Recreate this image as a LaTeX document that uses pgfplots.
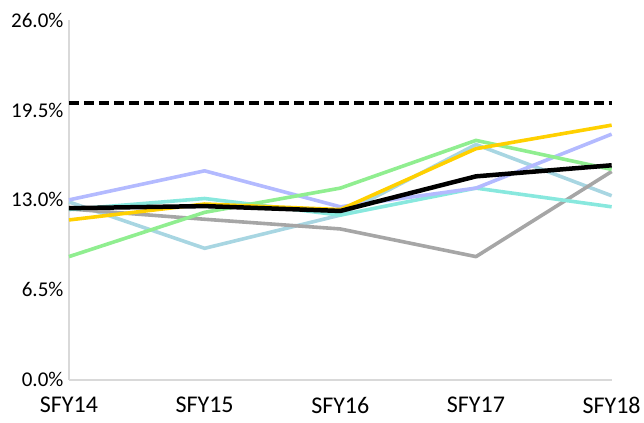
\documentclass[border=0pt]{standalone}
\usepackage{fontspec}
\setmainfont{Carlito}
\usepackage{pgfplots}
\pgfplotsset{compat=1.18}
\definecolor{lav}{RGB}{179,186,255}
\definecolor{lgreen}{RGB}{144,238,144}
\definecolor{gold}{RGB}{255,208,0}
\definecolor{lblue}{RGB}{168,214,226}
\definecolor{turq}{RGB}{136,232,222}
\definecolor{mgray}{RGB}{166,166,166}
\definecolor{axgray}{RGB}{217,217,217}
\begin{document}
\begin{tikzpicture}
\begin{axis}[
  name=ax,
  scale only axis,
  width=543pt, height=360pt,
  xmin=0, xmax=4, ymin=0, ymax=26,
  axis x line=bottom, axis y line=left,
  axis line style={axgray, line width=2pt, -},
  xtick={0,1,2,3,4},
  xticklabels={SFY14,SFY15,SFY16,SFY17,SFY18},
  ytick={0,6.5,13,19.5,26},
  yticklabels={0.0\%,6.5\%,13.0\%,19.5\%,26.0\%},
  major tick length=0pt,
  xticklabel style={font=\fontsize{24}{28}\selectfont, yshift=-14pt},
  yticklabel style={font=\fontsize{21}{25}\selectfont, xshift=-2pt},
  clip=false,
  every axis plot/.append style={line width=3.6pt, line join=round},
]
\addplot[lblue] coordinates {(0,12.85) (1,9.5) (2,11.9) (3,17.0) (4,13.3)};
\addplot[mgray] coordinates {(0,12.35) (1,11.6) (2,10.9) (3,8.9) (4,15.05)};
\addplot[turq] coordinates {(0,12.3) (1,13.1) (2,11.9) (3,13.85) (4,12.5)};
\addplot[lav] coordinates {(0,13.0) (1,15.1) (2,12.5) (3,13.85) (4,17.75)};
\addplot[lgreen] coordinates {(0,8.9) (1,12.1) (2,13.85) (3,17.3) (4,15.2)};
\addplot[gold] coordinates {(0,11.55) (1,12.7) (2,12.3) (3,16.7) (4,18.4)};
\addplot[black, line width=4.5pt] coordinates {(0,12.4) (1,12.55) (2,12.2) (3,14.7) (4,15.5)};
\addplot[black, line width=3.6pt, dash pattern=on 10pt off 5pt] coordinates {(0,20) (4,20)};
\end{axis}
\path ([shift={(-69pt,-43pt)}]ax.south west) rectangle ([shift={(575pt,380pt)}]ax.south west);
\end{tikzpicture}
\end{document}
